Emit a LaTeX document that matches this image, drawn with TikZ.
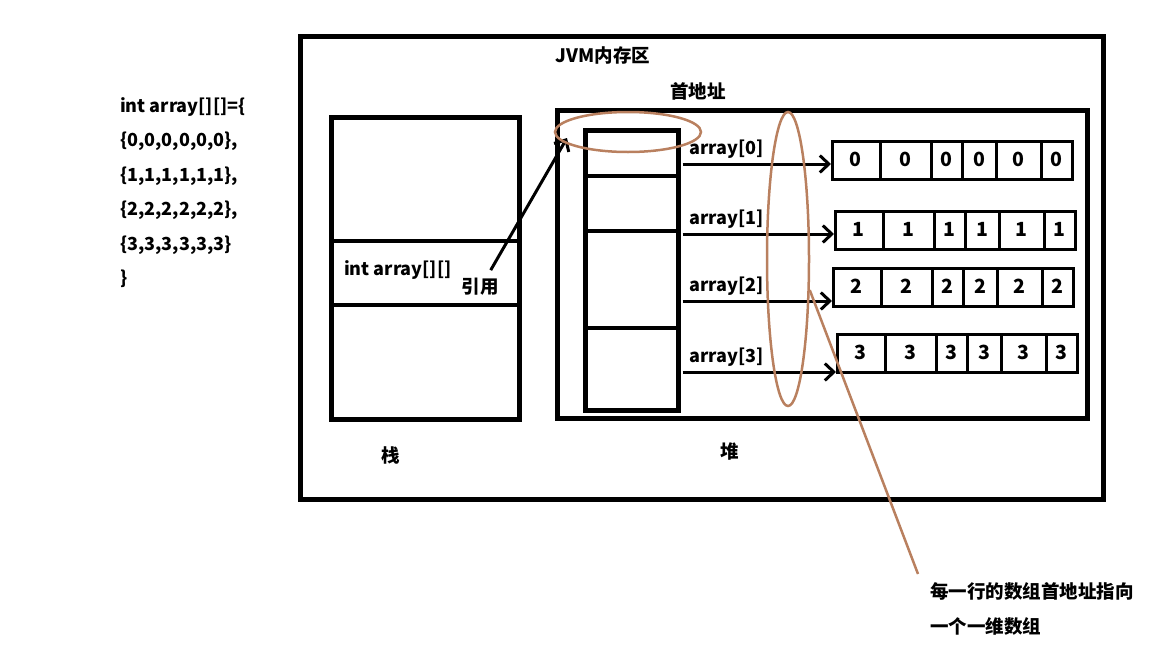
\documentclass[tikz,border=0pt]{standalone}
\usepackage{fontspec}
\setmainfont{Noto Sans CJK SC}
\usetikzlibrary{calc,shapes,arrows.meta,positioning}
\definecolor{ringbrown}{RGB}{185,128,95}

\tikzset{
  box/.style={draw, line width=4.5pt, inner sep=0pt, anchor=north west},
  cellrow/.style={draw, line width=3pt, inner sep=0pt, anchor=north west,
    minimum width=240pt, minimum height=38pt},
  lbl/.style={font=\fontsize{18}{20}\selectfont\bfseries, inner sep=0pt},
  digit/.style={font=\fontsize{19.5}{20}\selectfont\bfseries, inner sep=0pt},
  cjk/.style={font=\fontsize{18.5}{35}\selectfont\bfseries, inner sep=0pt},
  ptr/.style={line width=3pt, -{Straight Barb[length=9pt,width=17pt]}},
  ring/.style={draw=ringbrown, line width=2.5pt, ellipse, inner sep=0pt}
}

\begin{document}
\begin{tikzpicture}[x=1pt,y=-1pt]
  \useasboundingbox (0,0) rectangle (1152,648);

  % code on the left
  \node[lbl, align=left, anchor=north west,
        font=\fontsize{18}{34.5}\selectfont\bfseries] (code) at (120,97)
    {int array[][]=\{\\ \{0,0,0,0,0,0\},\\ \{1,1,1,1,1,1\},\\
     \{2,2,2,2,2,2\},\\ \{3,3,3,3,3,3\}\\ \}};

  % memory area
  \node[box, minimum width=803pt, minimum height=463pt] (jvm) at (298,34) {};
  \node[cjk] (jvmlbl) at (603,55) {JVM内存区};

  % stack
  \node[box, minimum width=188pt, minimum height=302pt] (stack) at (329,115) {};
  \foreach \d in {126,190}
    \draw[line width=4.5pt] ($(stack.north west)+(0,\d)$) -- ($(stack.north east)+(0,\d)$);
  \node[lbl, anchor=west] (var) at (344,270) {int array[][]};
  \node[cjk] (ref) at (480,287) {引用};
  \node[cjk] (stacklbl) at (391,455) {栈};

  % heap
  \node[box, minimum width=530pt, minimum height=308pt] (heap) at (555,108) {};
  \node[cjk] (heaplbl) at (730,452) {堆};
  \node[box, minimum width=93pt, minimum height=280pt] (col) at (583,128) {};
  \foreach \d in {48,103,200}
    \draw[line width=4.5pt] ($(col.north west)+(0,\d)$) -- ($(col.north east)+(0,\d)$);
  \node[cjk] (addr) at (698,91) {首地址};

  % one dimensional arrays
  \foreach \i/\x/\y in {0/831/140,1/834/210,2/832/267,3/836/333} {
    \node[cellrow] (row\i) at (\x,\y) {};
    \foreach \d in {49,100,131,165,210}
      \draw[line width=3pt] ($(row\i.north west)+(\d,0)$) -- ($(row\i.south west)+(\d,0)$);
    \foreach \a/\b in {0/49,49/100,100/131,131/165,165/210,210/240}
      \node[digit] at ($(row\i.north west)+({(\a+\b)/2},19)$) {\i};
  }

  % pointers from the column
  \foreach \i/\d in {0/36,1/106,2/173,3/244} {
    \coordinate (p\i) at ($(col.north east)+(2,\d)$);
    \draw[ptr] (p\i) -- (p\i -| row\i.west);
    \node[lbl, anchor=south west] (name\i) at ($(p\i)+(7,-5)$) {array[\i]};
  }

  % reference into the heap
  \coordinate (tip) at ($(col.north west)+(-16,10)$);
  \draw[ptr] ($(ref.north east)+(-8,-8)$) -- (tip);

  % marks
  \node[ring, minimum width=146pt, minimum height=40pt] (topring) at (628,132) {};
  \node[ring, minimum width=42pt, minimum height=294pt] (vring) at (788,259) {};
  \node[cjk, align=left, anchor=north west] (note) at (930,582)
    {每一行的数组首地址指向\\一个一维数组};
  \draw[draw=ringbrown, line width=2.5pt] (vring.-55) -- ($(note.north west)+(-12,-8)$);
\end{tikzpicture}
\end{document}
